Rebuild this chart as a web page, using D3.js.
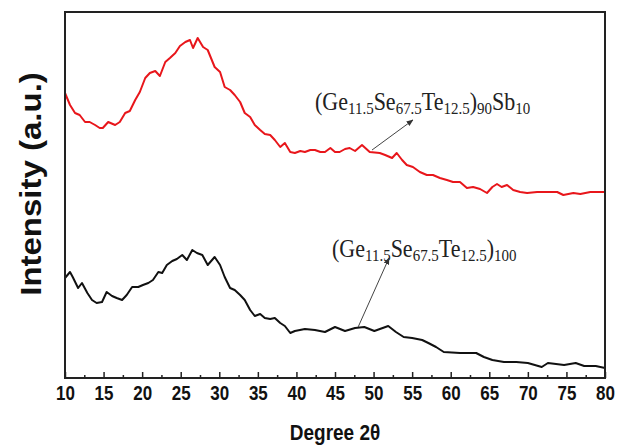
<!DOCTYPE html>
<html>
<head>
<meta charset="utf-8">
<script src="https://cdn.jsdelivr.net/npm/d3@7"></script>
<style>
  html, body { margin: 0; padding: 0; background: #fff; }
  svg { display: block; }
</style>
</head>
<body>
<svg id="chart" width="618" height="445"></svg>
<script>
// ---- data (degree 2θ, intensity a.u.) ----
const redDeg = [10.0,10.65,11.3,11.9,12.6,13.2,13.9,14.5,14.9,15.6,16.5,17.1,17.8,18.4,19.1,19.7,20.4,21.0,21.7,22.3,23.0,23.6,24.3,24.9,25.6,26.2,26.6,27.2,27.9,28.5,29.4,30.1,30.7,31.4,32.0,32.7,33.3,34.0,34.6,35.3,35.9,36.6,37.2,37.9,38.5,39.2,39.8,40.5,41.1,41.8,42.4,43.1,43.7,44.4,45.0,45.6,46.3,46.9,47.6,48.5,49.5,50.8,51.5,52.4,53.0,53.7,54.3,55.1,56.0,56.9,57.7,58.6,59.5,60.3,61.2,62.1,62.9,63.8,64.7,65.4,66.0,66.6,67.3,68.1,69.0,69.9,71.2,72.5,73.8,74.6,75.9,76.8,78.1,79.4,80.0];
const redVal = [285,273,265,263,256,256,253,250,250,256,253,256,265,267,278,286,300,305,307,302,316,320,325,332,336,338,330,340,331,328,311,306,291,288,283,276,265,261,253,248,244,243,238,231,235,226,225,227,226,228,228,226,226,230,226,226,229,230,227,233,226,225,223,220,225,218,213,211,206,203,203,200,198,196,196,190,191,189,185,191,194,191,193,188,186,185,186,186,186,183,185,184,186,186,186];

const blackDeg = [10.0,10.65,11.0,11.7,12.2,12.9,13.5,14.1,14.8,15.4,16.1,16.7,17.4,18.0,18.7,19.5,20.1,20.8,21.4,22.1,22.6,23.2,23.9,24.5,25.2,25.8,26.5,27.1,27.8,28.5,29.4,30.1,30.7,31.4,32.0,32.7,33.3,34.0,34.6,35.3,35.9,36.6,37.2,37.9,38.5,39.2,39.8,41.1,42.4,43.7,45.0,46.3,47.6,48.8,50.1,51.9,52.9,53.9,55.0,56.3,57.1,58.1,59.1,61.2,63.3,64.3,65.4,66.9,68.5,70.0,71.8,72.6,74.7,76.2,77.3,78.8,80.0];
const blackVal = [100,106,101,90,95,85,78,75,76,86,82,80,78,83,91,91,93,95,98,106,105,113,117,119,123,118,128,125,123,113,121,113,101,90,88,83,78,68,62,64,60,59,60,55,52,45,47,49,48,46,51,47,50,51,47,52,46,41,40,38,35,31,26,25,25,21,18,16,16,15,11,15,13,15,12,12,10];

const xTicksMajor = [10,15,20,25,30,35,40,45,50,55,60,65,70,75,80];
const xTicksMinor = [12.5,17.5,22.5,27.5,32.5,37.5,42.5,47.5,52.5,57.5,62.5,67.5,72.5,77.5];

// label pieces: [text, isSubscript]
const redLabelParts = [["(Ge",0],["11.5",1],["Se",0],["67.5",1],["Te",0],["12.5",1],[")",0],["90",1],["Sb",0],["10",1]];
const blackLabelParts = [["(Ge",0],["11.5",1],["Se",0],["67.5",1],["Te",0],["12.5",1],[")",0],["100",1]];
// arrow: [fromDeg, fromVal, toDeg, toVal]
const redArrow = [49.8, 228, 55.1, 258];
const blackArrow = [48.0, 51, 52.0, 120];

(function () {
const svg = d3.select("#chart");
const mL = 65, mR = 605, mT = 12, mB = 378;
const sans = "Arial, 'Liberation Sans', sans-serif";

const x = d3.scaleLinear().domain([10, 80]).range([mL, mR]);
const y = d3.scaleLinear().domain([0, 366]).range([mB, mT]);

const line = d3.line().x(d => x(d[0])).y(d => y(d[1]));

svg.append("defs").append("marker")
  .attr("id", "arrow").attr("viewBox", "0 0 10 10")
  .attr("refX", 9).attr("refY", 5)
  .attr("markerWidth", 7).attr("markerHeight", 7)
  .attr("markerUnits", "userSpaceOnUse")
  .attr("orient", "auto")
  .append("path").attr("d", "M0,1 L10,5 L0,9 Z").attr("fill", "#333");

// curves
svg.append("path")
  .datum(redDeg.map((d, i) => [d, redVal[i]]))
  .attr("d", line).attr("fill", "none")
  .attr("stroke", "#e8161b").attr("stroke-width", 2).attr("stroke-linejoin", "round");
svg.append("path")
  .datum(blackDeg.map((d, i) => [d, blackVal[i]]))
  .attr("d", line).attr("fill", "none")
  .attr("stroke", "#111").attr("stroke-width", 2).attr("stroke-linejoin", "round");

// axes
const gMinor = svg.append("g").attr("transform", `translate(0,${mB})`)
  .call(d3.axisBottom(x).tickValues(xTicksMinor).tickSize(-3).tickFormat(""));
const gMajor = svg.append("g").attr("transform", `translate(0,${mB})`)
  .call(d3.axisBottom(x).tickValues(xTicksMajor).tickSize(-6).tickFormat(d3.format("d")));
[gMinor, gMajor].forEach(g => {
  g.select(".domain").remove();
  g.selectAll(".tick line").attr("stroke", "#222").attr("stroke-width", 1.5);
});
gMajor.selectAll(".tick text")
  .attr("y", null).attr("dy", null)
  .attr("transform", "translate(0,22) scale(1,1.2)")
  .attr("font-family", sans)
  .attr("font-weight", "bold").attr("font-size", 17).attr("fill", "#111");

// frame
svg.append("rect")
  .attr("x", mL).attr("y", mT).attr("width", mR - mL).attr("height", mB - mT)
  .attr("fill", "none").attr("stroke", "#222").attr("stroke-width", 2);

// axis titles
svg.append("text")
  .attr("transform", `translate(${(mL + mR) / 2},440) scale(1,1.2)`)
  .attr("text-anchor", "middle")
  .attr("font-family", sans)
  .attr("font-weight", "bold").attr("font-size", 19).attr("fill", "#111")
  .text("Degree 2θ");
svg.append("text")
  .attr("transform", `translate(41,184) rotate(-90) scale(1.1,1)`)
  .attr("text-anchor", "middle")
  .attr("font-family", sans)
  .attr("font-weight", "bold").attr("font-size", 30).attr("fill", "#111")
  .text("Intensity (a.u.)");

// labels
function addLabel(parts, lx, ly) {
  const t = svg.append("text")
    .attr("transform", `translate(${lx},${ly}) scale(1,1.1)`)
    .attr("font-family", "'Times New Roman', 'Liberation Serif', serif")
    .attr("fill", "#222");
  let prevSub = 0;
  parts.forEach(([s, sub]) => {
    const ts = t.append("tspan").text(s).attr("font-size", sub ? 15 : 22);
    if (sub !== prevSub) ts.attr("dy", sub ? 3.5 : -3.5);
    prevSub = sub;
  });
}
addLabel(redLabelParts, 315, 110);
addLabel(blackLabelParts, 332, 257);

// arrows
[redArrow, blackArrow].forEach(a => {
  svg.append("line")
    .attr("x1", x(a[0])).attr("y1", y(a[1]))
    .attr("x2", x(a[2])).attr("y2", y(a[3]))
    .attr("stroke", "#444").attr("stroke-width", 1)
    .attr("marker-end", "url(#arrow)");
});
})();
</script>
</body>
</html>
